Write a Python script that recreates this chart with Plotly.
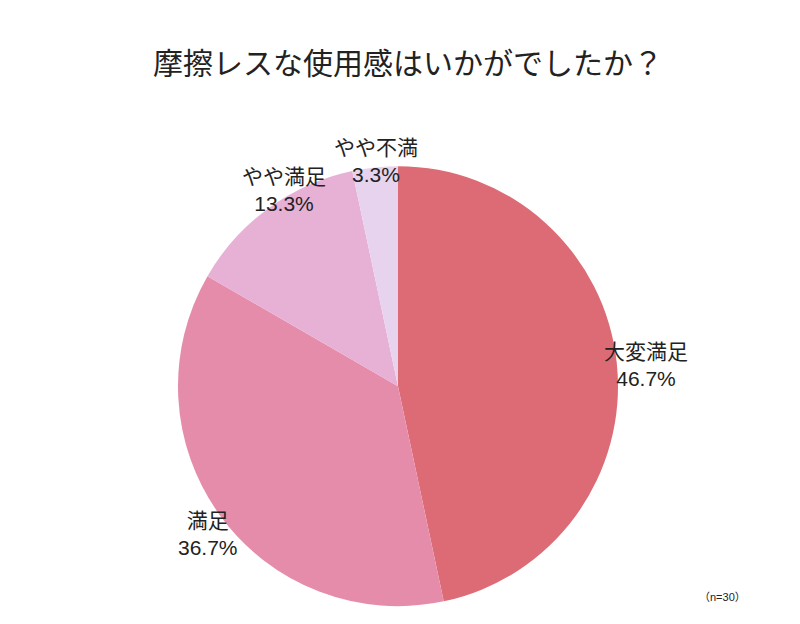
import plotly.graph_objects as go

labels = ["大変満足", "満足", "やや満足", "やや不満"]
values = [14, 11, 4, 1]
colors = ["#DC6B75", "#E68CAB", "#E7B0D5", "#E8D3EE"]
label_pos = [(682, 357), (168, 553), (232, 155), (368, 126)]

total = sum(values)
fig = go.Figure(go.Pie(
    labels=labels, values=values, sort=False, direction="clockwise", rotation=0,
    marker=dict(colors=colors, line=dict(width=0)),
    textinfo="none",
    domain=dict(x=[0.2125, 0.7625], y=[0.041, 0.747]), showlegend=False,
    hoverinfo="none"))
ann = [dict(text="（n=30）", x=0.925, y=0.043, xref="paper", yref="paper",
            showarrow=False, font=dict(size=11, color="#222"))]
for lab, v, (px, py) in zip(labels, values, label_pos):
    ann.append(dict(text=f"{lab}<br>{v/total*100:.1f}%", x=px/800, y=1-py/624,
                    xref="paper", yref="paper", showarrow=False,
                    font=dict(size=21, color="#222",
                              family="Liberation Sans, Noto Sans CJK JP")))
fig.update_layout(
    width=800, height=624, margin=dict(l=0, r=0, t=0, b=0),
    paper_bgcolor="white",
    font=dict(family="Liberation Sans, Noto Sans CJK JP"),
    title=dict(text="摩擦レスな使用感はいかがでしたか？", x=0.5, y=0.928, xanchor="center",
               font=dict(size=30, color="#222")),
    annotations=ann)
fig.write_html("out.html")
